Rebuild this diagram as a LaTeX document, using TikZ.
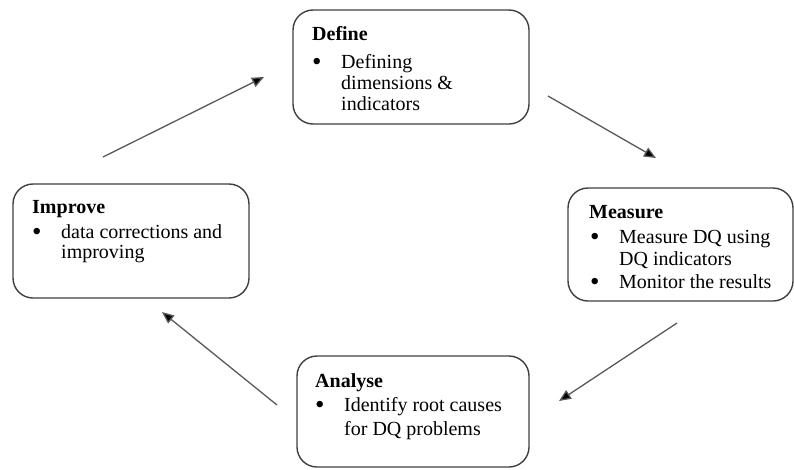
\documentclass[tikz,border=0pt]{standalone}
\usepackage{fontspec}
\setmainfont{Liberation Serif}
\usetikzlibrary{arrows.meta}
\begin{document}
\begin{tikzpicture}[x=1pt,y=-1pt,
  stagebox/.style={draw=black!75, line width=1.4pt, rounded corners=20pt, fill=white},
  ttl/.style={anchor=base west, inner sep=0pt, font=\fontsize{20}{22}\selectfont\bfseries},
  body/.style={anchor=base west, inner sep=0pt, font=\fontsize{20}{22.5}\selectfont},
  flow/.style={draw=black!65, line width=1.3pt, -{Triangle[length=12pt,width=10pt,fill=black]}}
]
\useasboundingbox (0,0) rectangle (794,469);
\newcommand{\bul}{\makebox[29pt][l]{\raisebox{-2.2pt}{\fontsize{27}{27}\selectfont\textbullet}}}
\newcommand{\ind}{\hspace*{29pt}}
\newcommand{\lines}[2]{\vtop{\baselineskip=#1pt\lineskiplimit=-20pt #2}}
% boxes
\draw[stagebox] (293,10) rectangle (529,124) node[midway] (define) {};
\draw[stagebox] (568,188) rectangle (793,301) node[midway] (measure) {};
\draw[stagebox] (13,184) rectangle (249,298) node[midway] (improve) {};
\draw[stagebox] (297,356) rectangle (529,467) node[midway] (analyse) {};
% texts
\node[ttl] (defT) at (312,40) {Define};
\node[body] (defB) at (312,68) {\lines{21}{\hbox{\bul Defining}\hbox{\ind dimensions \&}\hbox{\ind indicators}}};
\node[ttl] (meaT) at (589,218) {Measure};
\node[body] (meaB) at (590,243) {\lines{22.5}{\hbox{\bul Measure DQ using}\hbox{\ind DQ indicators}\hbox{\bul Monitor the results}}};
\node[ttl] (impT) at (32,213) {Improve};
\node[body] (impB) at (32,238) {\lines{20.5}{\hbox{\bul data corrections and}\hbox{\ind improving}}};
\node[ttl] (anaT) at (315,387) {Analyse};
\node[body] (anaB) at (315,411) {\lines{24}{\hbox{\bul Identify root causes}\hbox{\ind for DQ problems}}};
% arrows
\coordinate (a1s) at (103,157); \coordinate (a1e) at (264,77);
\coordinate (a2s) at (548,96);  \coordinate (a2e) at (656,158);
\coordinate (a3s) at (677,323); \coordinate (a3e) at (559,401);
\coordinate (a4s) at (277,405); \coordinate (a4e) at (162,312);
\draw[flow] (a1s) -- (a1e);
\draw[flow] (a2s) -- (a2e);
\draw[flow] (a3s) -- (a3e);
\draw[flow] (a4s) -- (a4e);
\end{tikzpicture}
\end{document}
